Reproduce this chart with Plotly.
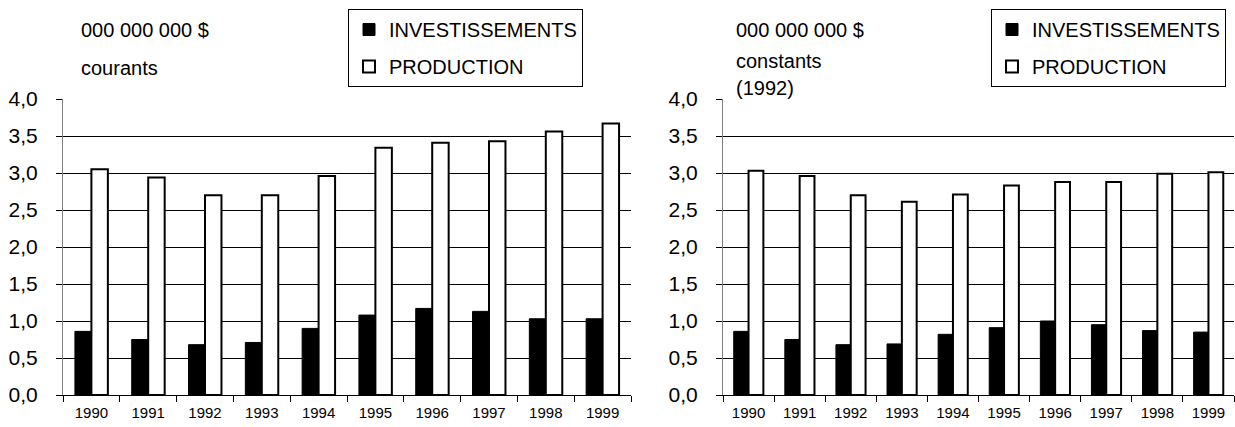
import plotly.graph_objects as go

years = ["1990", "1991", "1992", "1993", "1994", "1995", "1996", "1997", "1998", "1999"]

# Left chart: current dollars (000 000 000 $ courants)
inv_courants = [0.86, 0.75, 0.68, 0.71, 0.90, 1.08, 1.17, 1.13, 1.03, 1.03]
prod_courants = [3.05, 2.94, 2.70, 2.70, 2.96, 3.34, 3.41, 3.43, 3.56, 3.67]

# Right chart: constant dollars (1992)
inv_constants = [0.86, 0.75, 0.68, 0.69, 0.82, 0.91, 1.00, 0.95, 0.87, 0.85]
prod_constants = [3.03, 2.96, 2.70, 2.61, 2.71, 2.83, 2.88, 2.88, 2.99, 3.01]

y_ticks = [0, 0.5, 1.0, 1.5, 2.0, 2.5, 3.0, 3.5, 4.0]

FONT = "Liberation Sans, Arial, sans-serif"
W, H = 1235, 427

fig = go.Figure()

inv_marker = dict(color="black", line=dict(color="black", width=1))
prod_marker = dict(color="white", line=dict(color="black", width=2))

fig.add_trace(go.Bar(x=years, y=inv_courants, name="INVESTISSEMENTS", marker=inv_marker,
                     xaxis="x", yaxis="y", legend="legend", legendgroup="inv"))
fig.add_trace(go.Bar(x=years, y=prod_courants, name="PRODUCTION", marker=prod_marker,
                     xaxis="x", yaxis="y", legend="legend", legendgroup="prod"))
fig.add_trace(go.Bar(x=years, y=inv_constants, name="INVESTISSEMENTS", marker=inv_marker,
                     xaxis="x2", yaxis="y2", legend="legend2", legendgroup="inv2"))
fig.add_trace(go.Bar(x=years, y=prod_constants, name="PRODUCTION", marker=prod_marker,
                     xaxis="x2", yaxis="y2", legend="legend2", legendgroup="prod2"))

y_dom = [32 / H, 328 / H]

def xaxis(domain, anchor):
    return dict(domain=domain, anchor=anchor, type="category", automargin=False,
                showline=True, linecolor="black", linewidth=1,
                ticks="outside", tickson="boundaries", ticklen=6, tickcolor="black",
                showgrid=False, tickfont=dict(family=FONT, size=15, color="black"),
                ticklabelstandoff=4)

def yaxis(anchor):
    return dict(domain=y_dom, anchor=anchor, range=[0, 4], tickvals=y_ticks, automargin=False,
                tickformat=".1f", showline=True, linecolor="#808080", linewidth=1,
                ticks="outside", ticklen=6, tickcolor="black",
                showgrid=True, gridcolor="black", gridwidth=1, zeroline=False,
                tickfont=dict(family=FONT, size=21, color="black"),
                ticklabelstandoff=14)

legend_common = dict(xanchor="left", yanchor="top", bordercolor="black", borderwidth=1,
                     bgcolor="white", font=dict(family=FONT, size=20, color="black"),
                     traceorder="grouped", itemwidth=30, tracegroupgap=8)

fig.update_layout(
    width=W, height=H,
    margin=dict(l=0, r=0, t=0, b=0, autoexpand=False),
    paper_bgcolor="white", plot_bgcolor="white",
    separators=", ",
    barmode="group", bargap=0.42, bargroupgap=0,
    xaxis=xaxis([63 / W, 631 / W], "y"),
    yaxis=yaxis("x"),
    xaxis2=xaxis([723 / W, 1234 / W], "y2"),
    yaxis2=yaxis("x2"),
    legend=dict(x=348 / W, y=1 - 9 / H, **legend_common),
    legend2=dict(x=991 / W, y=1 - 9 / H, **legend_common),
    font=dict(family=FONT, color="black"),
)

texts = [
    ("000 000 000 $", 79, 30),
    ("courants", 79, 68),
    ("000 000 000 $", 734, 30),
    ("constants", 734, 61),
    ("(1992)", 734, 88),
]
for t, px, py in texts:
    fig.add_annotation(text=t, xref="paper", yref="paper", x=px / W, y=1 - py / H,
                       xanchor="left", yanchor="middle", showarrow=False,
                       font=dict(family=FONT, size=20, color="black"))

fig.write_html("out.html", config={"displayModeBar": False},
               post_script="document.body.style.margin='0';document.body.style.overflow='hidden';")
